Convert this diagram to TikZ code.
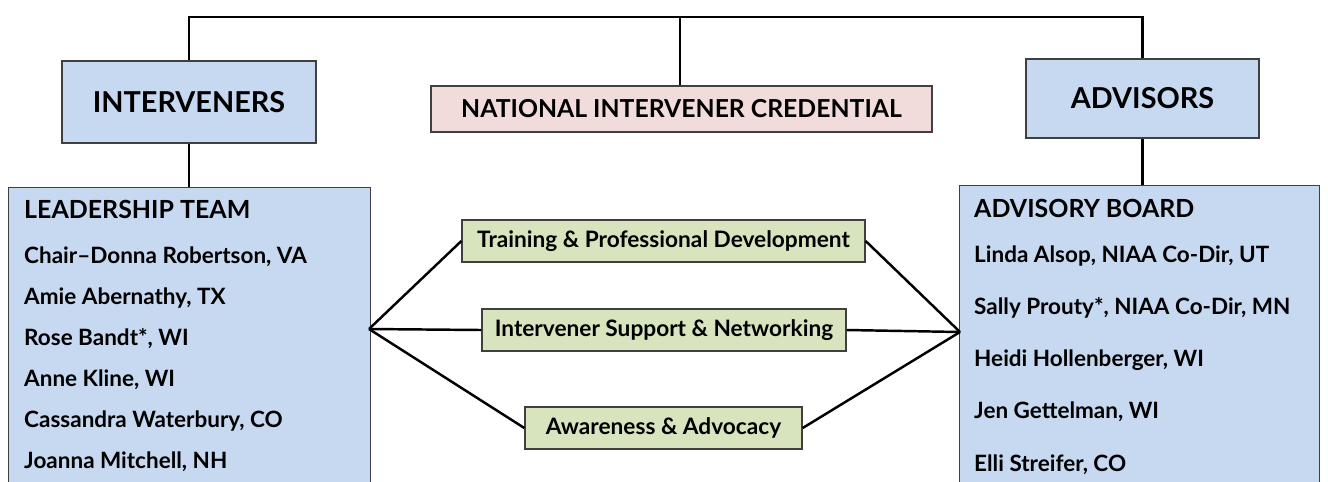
\documentclass[tikz,border=0pt]{standalone}
\usepackage{fontspec}
\setmainfont{Lato}
\usetikzlibrary{positioning}
\definecolor{boxblue}{HTML}{C6D9F1}
\definecolor{boxpink}{HTML}{F2DCDB}
\definecolor{boxgreen}{HTML}{D7E4BD}

\begin{document}
\begin{tikzpicture}[x=0.02cm, y=-0.02cm, line width=1.4pt]% 1 unit = 1 px
\tikzstyle{box}=[draw=black!75, line width=0.8pt, inner sep=0pt]
\tikzstyle{head}=[box, fill=boxblue, font=\bfseries\fontsize{16.4}{19}\selectfont]
\tikzstyle{panel}=[box, fill=boxblue, anchor=north west]
\tikzstyle{topic}=[box, fill=boxgreen, minimum height=0.84cm, font=\bfseries\fontsize{12.9}{15}\selectfont]
\tikzstyle{member}=[anchor=base west, inner sep=0pt, font=\bfseries\fontsize{12.8}{15}\selectfont]
\tikzstyle{title}=[member, font=\bfseries\fontsize{14.2}{17}\selectfont]
\clip (0,0) rectangle (1328,481);

% top row
\node[head, minimum width=5.08cm, minimum height=1.64cm] (inter) at (189,102) {INTERVENERS};
\node[box, fill=boxpink, minimum width=10.02cm, minimum height=0.92cm, font=\bfseries\fontsize{14.1}{17}\selectfont] (nic) at (681.5,109) {NATIONAL INTERVENER CREDENTIAL};
\node[head, minimum width=4.66cm, minimum height=1.58cm] (adv) at (1142.5,98.5) {ADVISORS};

\coordinate (top) at (680,17);
\draw (inter.north) |- (top) -| (adv.north);
\draw (top) -- (top |- nic.north);

% panels
\node[panel, minimum width=7.24cm, minimum height=6.2cm] (lead) at (8,187) {};
\node[panel, minimum width=7.2cm, minimum height=6.2cm] (board) at (959,185) {};
\draw (inter.south) -- (inter.south |- lead.north);
\draw (adv.south) -- (adv.south |- board.north);

\node[title] (leadt) at (23,218) {LEADERSHIP TEAM};
\foreach \name [count=\i] in {{Chair--Donna Robertson, VA}, {Amie Abernathy, TX}, {Rose Bandt*, WI},
    {Anne Kline, WI}, {Cassandra Waterbury, CO}, {Joanna Mitchell, NH}}
  \node[member] (lm\i) at (23,222+41*\i) {\name};

\node[title] (boardt) at (973,217) {ADVISORY BOARD};
\foreach \name [count=\i] in {{Linda Alsop, NIAA Co-Dir, UT}, {Sally Prouty*, NIAA Co-Dir, MN},
    {Heidi Hollenberger, WI}, {Jen Gettelman, WI}, {Elli Streifer, CO}}
  \node[member] (bm\i) at (973,210+52.2*\i) {\name};

% middle topics
\node[topic, minimum width=8.06cm] (train) at (663.5,241) {Training \& Professional Development};
\node[topic, minimum width=7.28cm] (sup) at (664,330) {Intervener Support \& Networking};
\node[topic, minimum width=5.54cm] (aware) at (663.5,428) {Awareness \& Advocacy};

\coordinate (lj) at (369,329);
\coordinate (rj) at (960,332);
\foreach \t in {train,sup,aware}
  \draw (lj) -- (\t.west) (\t.east) -- (rj);

\end{tikzpicture}
\end{document}
